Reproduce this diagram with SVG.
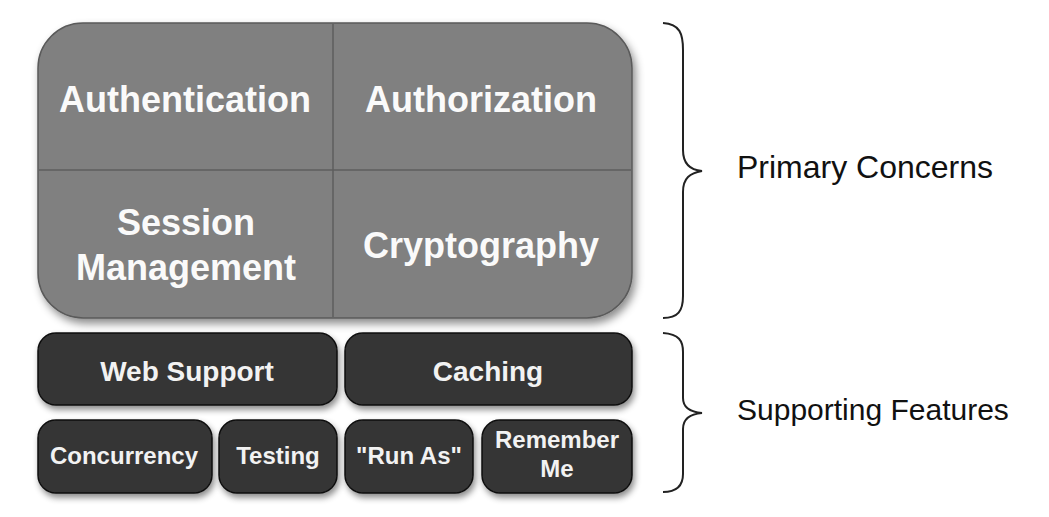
<svg xmlns="http://www.w3.org/2000/svg" width="1049" height="517" viewBox="0 0 1049 517">
<defs>
<filter id="sh" x="-10%" y="-10%" width="125%" height="130%">
<feDropShadow dx="3" dy="5" stdDeviation="4" flood-color="#000" flood-opacity="0.45"/>
</filter>
<filter id="sh2" x="-10%" y="-10%" width="125%" height="135%">
<feDropShadow dx="2" dy="4" stdDeviation="3" flood-color="#000" flood-opacity="0.45"/>
</filter>
</defs>
<style>
.big{fill:#808080;stroke:#5a5a5a;stroke-width:1.5}
.div{stroke:#5e5e5e;stroke-width:1.5;fill:none}
.box{fill:#363636;stroke:#111;stroke-width:1.5}
.t1{font-family:"Liberation Sans",Arial,sans-serif;font-weight:bold;font-size:36px;fill:#fafafa;text-anchor:middle}
.t2{font-family:"Liberation Sans",Arial,sans-serif;font-weight:bold;font-size:28px;fill:#f2f2f2;text-anchor:middle}
.t3{font-family:"Liberation Sans",Arial,sans-serif;font-weight:bold;font-size:24px;fill:#f2f2f2;text-anchor:middle}
.lab{font-family:"Liberation Sans",Arial,sans-serif;font-size:30px;fill:#111}
.lab2{font-size:32px}
.brace{fill:none;stroke:#222;stroke-width:2}
</style>
<rect width="1049" height="517" fill="#ffffff"/>
<g id="primary">
<rect class="big" x="38" y="23" width="594" height="295" rx="45" ry="45" filter="url(#sh)"/>
<line class="div" x1="333" y1="24" x2="333" y2="317"/>
<line class="div" x1="39" y1="170" x2="631" y2="170"/>
</g>
<g id="authentication"><text class="t1" x="185" y="112">Authentication</text></g>
<g id="authorization"><text class="t1" x="481" y="112">Authorization</text></g>
<g id="session-management"><text class="t1" x="186" y="235">Session</text><text class="t1" x="186" y="280">Management</text></g>
<g id="cryptography"><text class="t1" x="481" y="258">Cryptography</text></g>
<g id="web-support"><rect class="box" x="38" y="333" width="299" height="72" rx="18" filter="url(#sh2)"/><text class="t2" x="187" y="381">Web Support</text></g>
<g id="caching"><rect class="box" x="345" y="333" width="287" height="72" rx="18" filter="url(#sh2)"/><text class="t2" x="488" y="381">Caching</text></g>
<g id="concurrency"><rect class="box" x="38" y="420" width="174" height="73" rx="18" filter="url(#sh2)"/><text class="t3" x="124" y="464">Concurrency</text></g>
<g id="testing"><rect class="box" x="219" y="420" width="118" height="73" rx="18" filter="url(#sh2)"/><text class="t3" x="278" y="464">Testing</text></g>
<g id="run-as"><rect class="box" x="345" y="420" width="128" height="73" rx="18" filter="url(#sh2)"/><text class="t3" x="409" y="464">"Run As"</text></g>
<g id="remember-me"><rect class="box" x="482" y="420" width="150" height="73" rx="18" filter="url(#sh2)"/><text class="t3" x="557" y="448">Remember</text><text class="t3" x="557" y="477">Me</text></g>
<g id="connectors">
<path class="brace" d="M663,23 C680,24 683,34 683,50 L683,150 C683,164 690,170 702,171 C690,173 683,178 683,192 L683,296 C683,311 678,318 663,318"/>
<path class="brace" d="M663,333 C679,334 683,341 683,352 L683,398 C683,408 690,412 702,413 C690,414 683,419 683,429 L683,474 C683,485 678,492 663,492"/>
</g>
<g id="primary-concerns"><text class="lab lab2" x="737" y="178">Primary Concerns</text></g>
<g id="supporting-features"><text class="lab" x="737" y="420">Supporting Features</text></g>
</svg>
